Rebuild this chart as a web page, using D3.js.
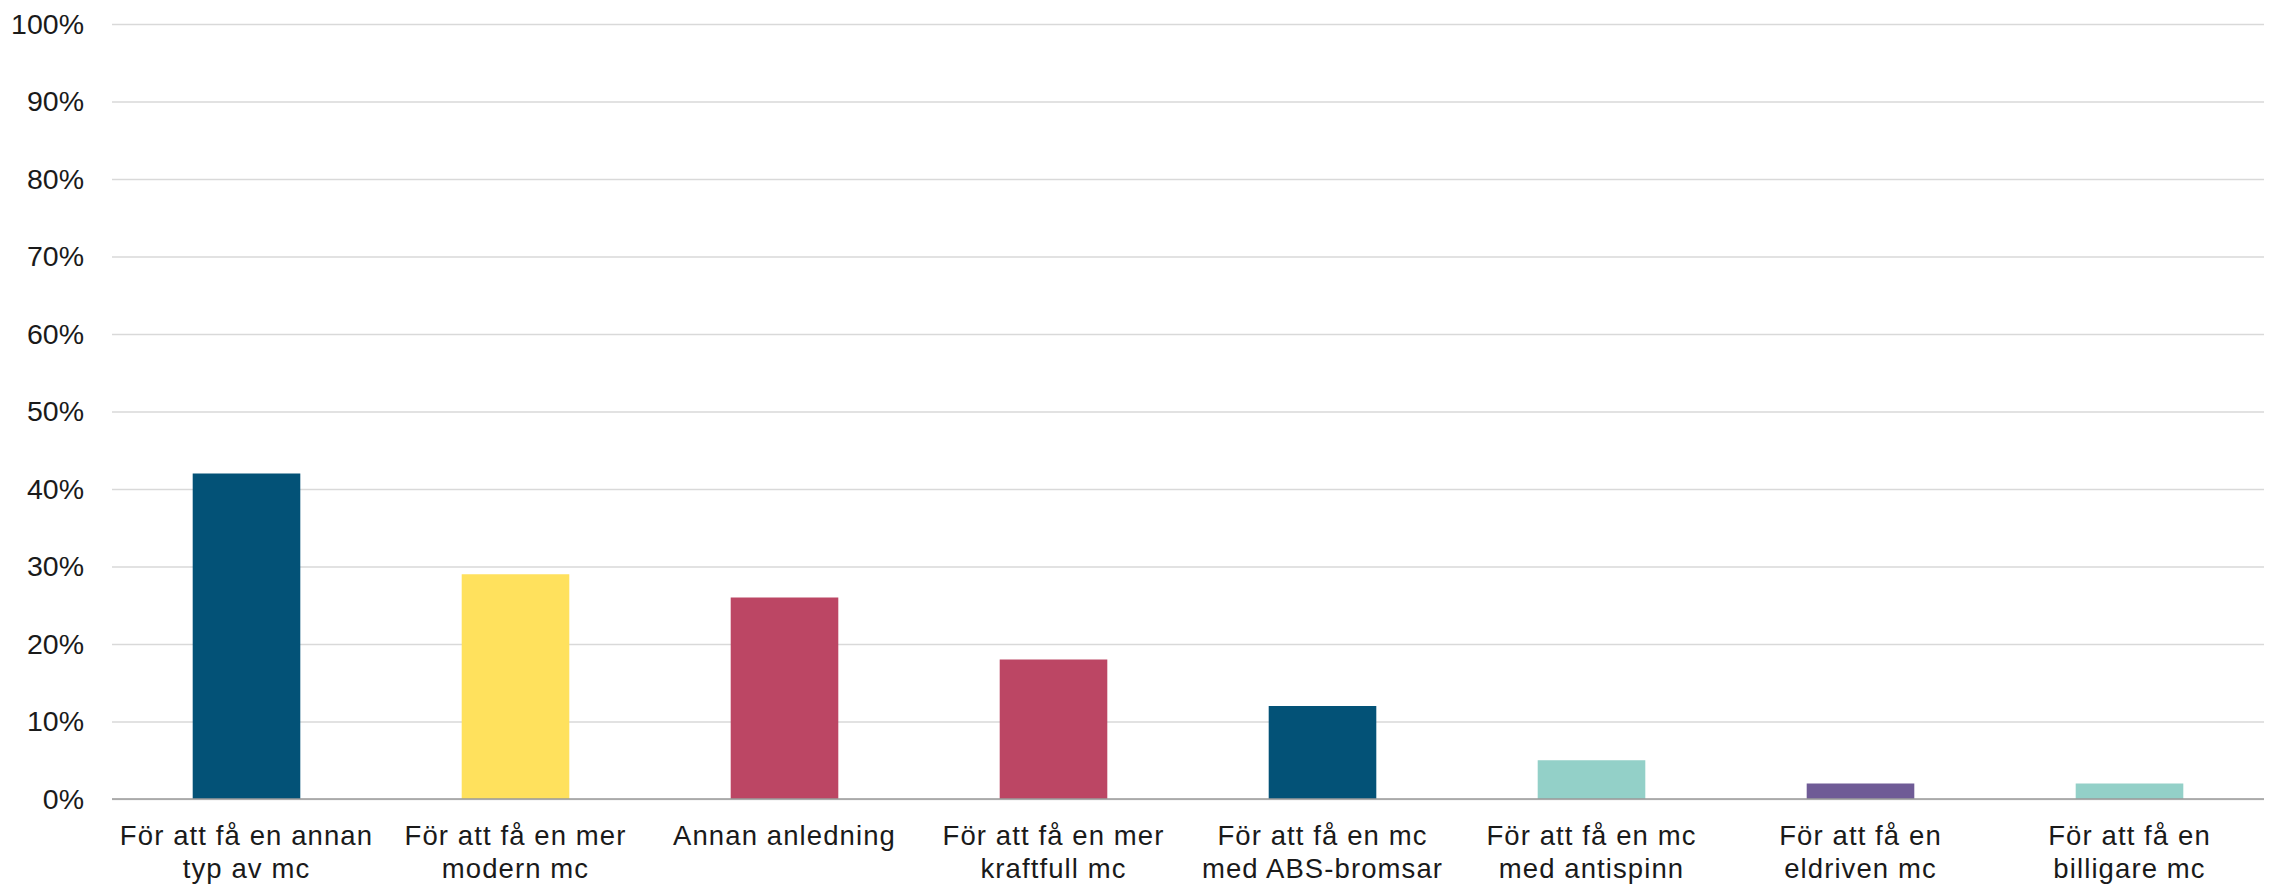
<!DOCTYPE html>
<html>
<head>
<meta charset="utf-8">
<script src="https://cdn.jsdelivr.net/npm/d3@7"></script>
<style>
  html, body { margin: 0; padding: 0; background: #fff; }
  svg text { font-family: "Liberation Sans", Arial, sans-serif; fill: #1a1a1a; }
</style>
</head>
<body>
<svg id="chart" width="2277" height="887"></svg>
<script>
const categories = [
  ["För att få en annan", "typ av mc"],
  ["För att få en mer", "modern mc"],
  ["Annan anledning"],
  ["För att få en mer", "kraftfull mc"],
  ["För att få en mc", "med ABS-bromsar"],
  ["För att få en mc", "med antispinn"],
  ["För att få en", "eldriven mc"],
  ["För att få en", "billigare mc"]
];
const values = [42, 29, 26, 18, 12, 5, 2, 2];
const colors = ["#035277", "#FFE15D", "#BC4664", "#BC4664", "#035277", "#93D0C8", "#6F5B96", "#93D0C8"];
const yTicks = [0, 10, 20, 30, 40, 50, 60, 70, 80, 90, 100];

const svg = d3.select("#chart");
const margin = { left: 112, right: 13, top: 24, bottom: 88 };
const W = 2277, H = 887;
const innerW = W - margin.left - margin.right;
const innerH = H - margin.top - margin.bottom;

const g = svg.append("g").attr("transform", `translate(${margin.left},${margin.top})`);

const x = d3.scaleBand()
  .domain(d3.range(categories.length))
  .range([0, innerW])
  .paddingInner(0.6)
  .paddingOuter(0.3);

const y = d3.scaleLinear().domain([0, 100]).range([innerH, 0]);

const yAxis = d3.axisLeft(y)
  .tickValues(yTicks)
  .tickSize(-innerW)
  .tickPadding(28)
  .tickFormat(d => d + "%");

const ya = g.append("g").call(yAxis);
ya.select(".domain").remove();
ya.selectAll(".tick line").attr("stroke", "#d9d9d9").attr("stroke-width", 1.5);
ya.selectAll(".tick text").attr("font-size", 28.5).attr("fill", "#1a1a1a");

g.selectAll("rect.bar")
  .data(values)
  .enter().append("rect")
  .attr("class", "bar")
  .attr("x", (d, i) => x(i))
  .attr("width", x.bandwidth())
  .attr("y", d => y(d))
  .attr("height", d => innerH - y(d))
  .attr("fill", (d, i) => colors[i]);

g.append("line")
  .attr("x1", 0).attr("x2", innerW)
  .attr("y1", y(0)).attr("y2", y(0))
  .attr("stroke", "#9a9a9a").attr("stroke-width", 1.5);

const labels = g.selectAll("text.cat")
  .data(categories)
  .enter().append("text")
  .attr("class", "cat")
  .attr("text-anchor", "middle")
  .attr("font-size", 27.5)
  .attr("letter-spacing", 1.1)
  .attr("transform", (d, i) => `translate(${x(i) + x.bandwidth() / 2},${innerH + 46})`);

labels.selectAll("tspan")
  .data(d => d)
  .enter().append("tspan")
  .attr("x", 0)
  .attr("y", (d, i) => i * 33)
  .text(d => d);
</script>
</body>
</html>
